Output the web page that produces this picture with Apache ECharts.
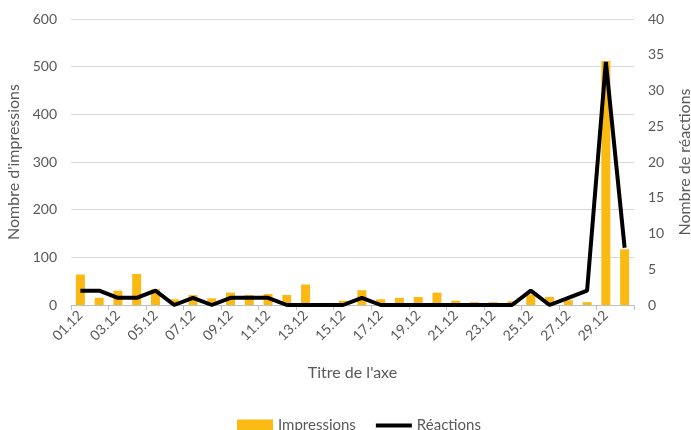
<!DOCTYPE html>
<html>
<head>
<meta charset="utf-8">
<script src="https://cdn.jsdelivr.net/npm/echarts@6/dist/echarts.min.js"></script>
<style>
  html, body { margin: 0; padding: 0; background: #fff; }
  #chart { width: 691px; height: 430px; }
</style>
</head>
<body>
<div id="chart"></div>
<script>
// jours de décembre
const days = ['01.12', '02.12', '03.12', '04.12', '05.12', '06.12', '07.12', '08.12', '09.12', '10.12',
  '11.12', '12.12', '13.12', '14.12', '15.12', '16.12', '17.12', '18.12', '19.12', '20.12',
  '21.12', '22.12', '23.12', '24.12', '25.12', '26.12', '27.12', '28.12', '29.12', '30.12']
// nombre d'impressions (axe gauche)
const impressions = [64, 15, 30, 65, 33, 12, 21, 14, 26, 21,
  23, 21, 43, 2, 9, 31, 12, 15, 17, 26,
  9, 6, 6, 8, 22, 17, 10, 6, 512, 117]
// nombre de réactions (axe droit)
const reactions = [2, 2, 1, 1, 2, 0, 1, 0, 1, 1,
  1, 0, 0, 0, 0, 1, 0, 0, 0, 0,
  0, 0, 0, 0, 2, 0, 1, 2, 34, 8]

const chart = echarts.init(document.getElementById('chart'))
const txt = '#595959'
const font = 'Lato'

chart.setOption({
  animation: false,
  textStyle: { fontFamily: font, color: txt },
  grid: { left: 71, right: 57, top: 19, bottom: 125, outerBoundsMode: 'none' },
  legend: {
    top: 413,
    left: 232,
    itemWidth: 36,
    itemHeight: 12,
    itemGap: 20,
    textStyle: { fontSize: 15, color: txt, fontFamily: font },
    data: [
      { name: 'Impressions', icon: 'rect' },
      { name: 'Réactions', icon: 'path://M0,0 L36,0 L36,4 L0,4 Z' }
    ]
  },
  xAxis: {
    type: 'category',
    data: days,
    name: "Titre de l'axe",
    nameLocation: 'middle',
    nameGap: 60,
    nameTextStyle: { fontSize: 16, color: txt },
    axisLine: { lineStyle: { color: '#bfbfbf' } },
    axisTick: { show: true, interval: 1, length: 5, lineStyle: { color: '#bfbfbf' } },
    axisLabel: { interval: 1, rotate: 45, fontSize: 14, color: txt, margin: 8 }
  },
  yAxis: [
    {
      type: 'value',
      min: 0,
      max: 600,
      interval: 100,
      name: "Nombre d'impressions",
      nameLocation: 'middle',
      nameGap: 47,
      nameTextStyle: { fontSize: 16, color: txt },
      axisLabel: { fontSize: 14, color: txt, margin: 14 },
      splitLine: { lineStyle: { color: '#d9d9d9' } }
    },
    {
      type: 'value',
      min: 0,
      max: 40,
      interval: 5,
      name: 'Nombre de réactions',
      nameLocation: 'middle',
      nameGap: 43,
      nameRotate: 90,
      nameTextStyle: { fontSize: 16, color: txt },
      axisLabel: { fontSize: 14, color: txt, margin: 14 },
      splitLine: { show: false }
    }
  ],
  series: [
    {
      name: 'Impressions',
      type: 'bar',
      data: impressions,
      barWidth: '48%',
      itemStyle: { color: '#FBB914' }
    },
    {
      name: 'Réactions',
      type: 'line',
      yAxisIndex: 1,
      data: reactions,
      symbol: 'none',
      lineStyle: { color: '#000', width: 4 },
      itemStyle: { color: '#000' }
    }
  ]
})
</script>
</body>
</html>
